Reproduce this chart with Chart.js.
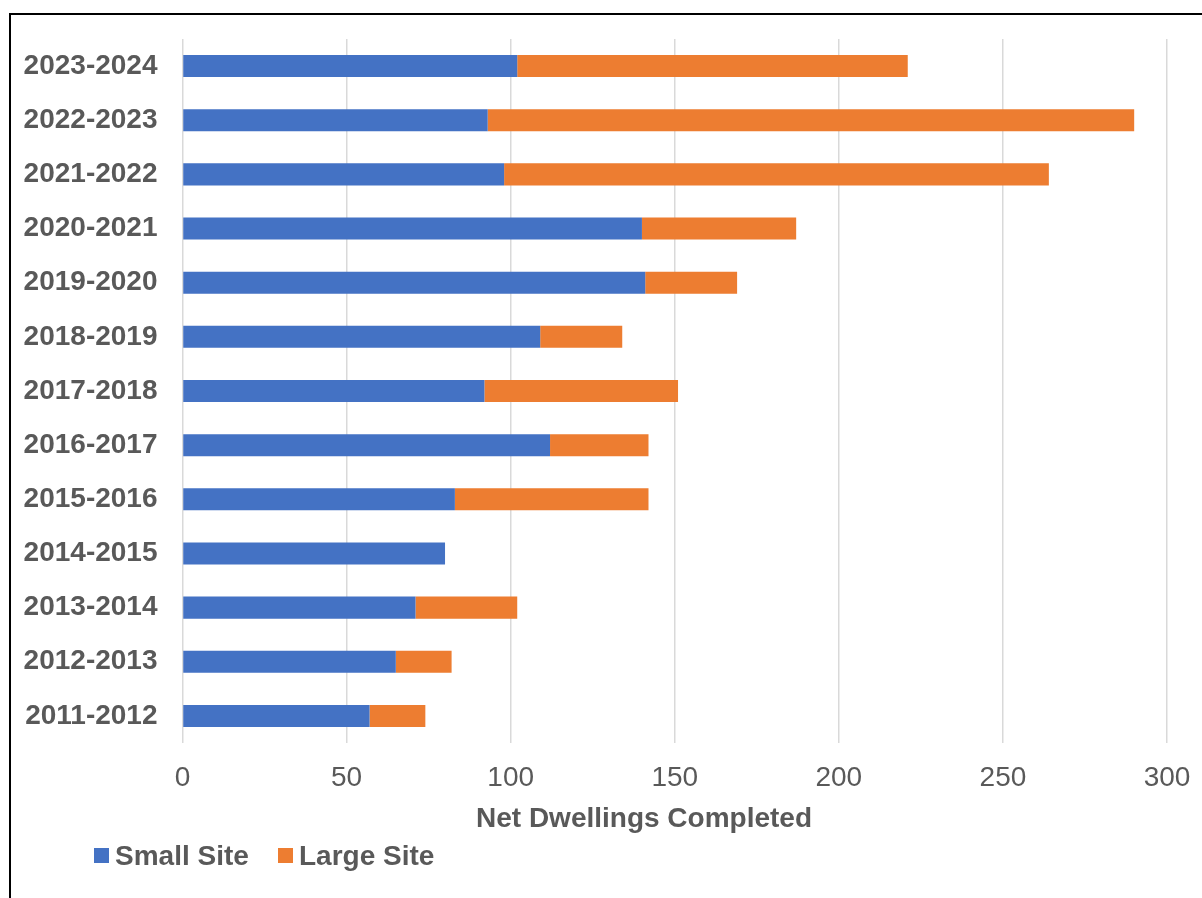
<!DOCTYPE html>
<html>
<head>
<meta charset="utf-8">
<script src="https://cdn.jsdelivr.net/npm/chart.js@4.4.1/dist/chart.umd.min.js"></script>
<style>
  html, body { margin: 0; padding: 0; background: #fff; overflow: hidden; }
  #wrap { position: relative; width: 1202px; height: 898px; }
  #frame { position: absolute; left: 9px; top: 13px; width: 1300px; height: 1000px;
           border-left: 2px solid #000; border-top: 2px solid #000; }
  .txt { position: absolute; font-family: "Liberation Sans", Arial, sans-serif;
         font-weight: bold; font-size: 28px; color: #595959; white-space: nowrap; line-height: 1; }
  .sw { position: absolute; width: 15px; height: 15px; }
</style>
</head>
<body>
<div id="wrap">
  <div id="frame"></div>
  <canvas id="chart" width="1202" height="898"></canvas>
  <div id="axisTitle" class="txt"></div>
  <div id="legend"></div>
</div>
<script>
// financial years, oldest first (drawn bottom to top)
var years = ["2011-2012", "2012-2013", "2013-2014", "2014-2015", "2015-2016", "2016-2017",
             "2017-2018", "2018-2019", "2019-2020", "2020-2021", "2021-2022", "2022-2023", "2023-2024"];
var smallSite = [57, 65, 71, 80, 83, 112, 92, 109, 141, 140, 98, 93, 102];
var largeSite = [17, 17, 31, 0, 59, 30, 59, 25, 28, 47, 166, 197, 119];
var xTicks = [0, 50, 100, 150, 200, 250, 300];
var seriesNames = ["Small Site", "Large Site"];
var seriesColors = ["#4472C4", "#ED7D31"];
var axisTitle = "Net Dwellings Completed";

var labelColor = "#595959";
var fontFamily = "'Liberation Sans', Arial, sans-serif";

var ctx = document.getElementById("chart");
var barChart = new Chart(ctx, {
    type: 'bar',
    data: {
        labels: years,
        datasets: [{
            label: seriesNames[0],
            data: smallSite,
            backgroundColor: seriesColors[0],
            borderWidth: 0
        }, {
            label: seriesNames[1],
            data: largeSite,
            backgroundColor: seriesColors[1],
            borderWidth: 0
        }]
    },
    options: {
        indexAxis: 'y',
        responsive: false,
        animation: false,
        categoryPercentage: 1,
        barPercentage: 0.407,
        layout: {
            padding: { left: 0, right: 35, top: 39, bottom: 0 }
        },
        plugins: {
            legend: { display: false },
            tooltip: { enabled: false }
        },
        scales: {
            x: {
                stacked: true,
                min: 0,
                max: 300,
                afterBuildTicks: function(scale) {
                    scale.ticks = xTicks.map(function(v) { return { value: v }; });
                },
                afterFit: function(scale) {
                    scale.height = 155;
                    scale.paddingLeft = 0;
                    scale.paddingRight = 0;
                },
                grid: { color: "#d9d9d9", lineWidth: 1.5, drawTicks: false },
                border: { display: false },
                ticks: {
                    color: labelColor,
                    padding: 18,
                    font: { family: fontFamily, size: 28 }
                }
            },
            y: {
                stacked: true,
                reverse: true,
                afterFit: function(scale) {
                    scale.width = 182.5;
                    scale.paddingTop = 0;
                    scale.paddingBottom = 0;
                },
                grid: { display: false, drawTicks: false },
                border: { display: false },
                ticks: {
                    color: labelColor,
                    padding: 25,
                    font: { family: fontFamily, size: 28, weight: 'bold' }
                }
            }
        }
    }
});

// axis title and legend as page text
var t = document.getElementById("axisTitle");
t.textContent = axisTitle;
t.style.top = "804px";
t.style.left = (644 - t.offsetWidth / 2) + "px";

var legend = document.getElementById("legend");
var swX = [94, 278];
for (var i = 0; i < seriesNames.length; i++) {
    var sw = document.createElement("div");
    sw.className = "sw";
    sw.style.left = swX[i] + "px";
    sw.style.top = "848px";
    sw.style.background = seriesColors[i];
    legend.appendChild(sw);
    var lab = document.createElement("div");
    lab.className = "txt";
    lab.textContent = seriesNames[i];
    lab.style.left = (swX[i] + 21) + "px";
    lab.style.top = "842px";
    legend.appendChild(lab);
}
</script>
</body>
</html>
